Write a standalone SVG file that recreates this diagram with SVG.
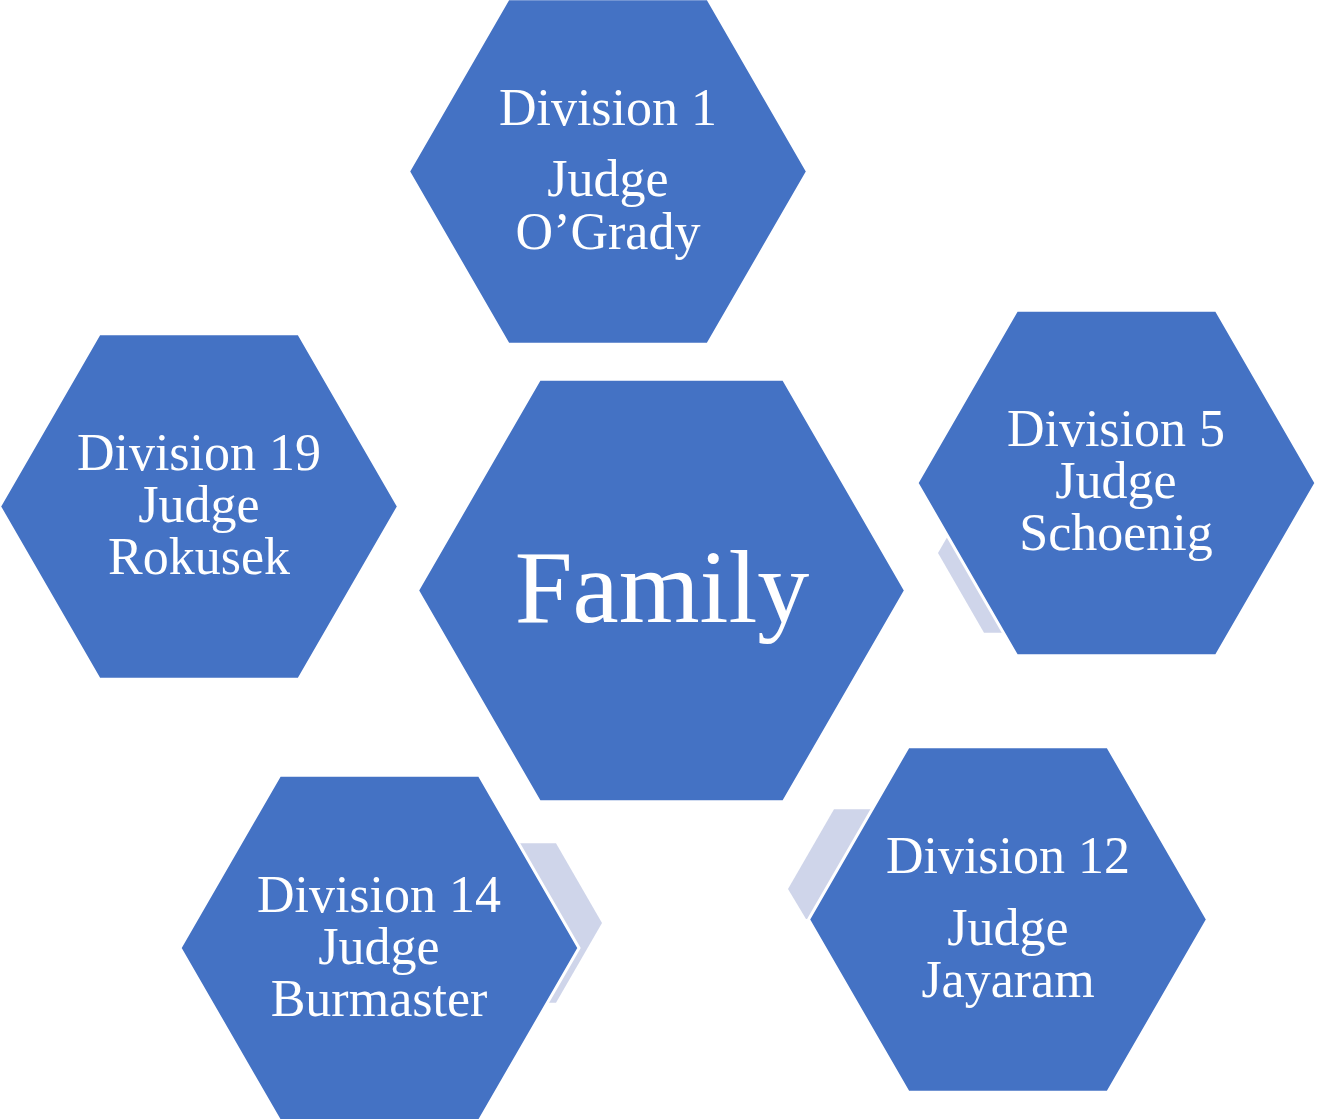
<svg xmlns="http://www.w3.org/2000/svg" width="1317" height="1119" viewBox="0 0 1317 1119">
<style>
.hex{fill:#4472C4;stroke:#FFFFFF;stroke-width:3;stroke-linejoin:miter}
.acc{fill:#CFD5EA;stroke:none}
.t{font-family:"Liberation Serif","Times New Roman",serif;font-size:52px;fill:#FFFFFF;text-anchor:middle}
.big{font-family:"Liberation Serif","Times New Roman",serif;font-size:104px;fill:#FFFFFF;text-anchor:middle}
</style>
<rect width="1317" height="1119" fill="#FFFFFF"/>
<g id="accents">
<polygon class="acc" points="938,553 984,473.3 1076,473.3 1122,553 1076,632.7 984,632.7"/>
<polygon class="acc" points="418,923 464,843.3 556,843.3 602,923 556,1002.7 464,1002.7"/>
<polygon class="acc" points="788,889 834,809.3 926,809.3 926,919 806,919"/>
</g>
<g id="div1">
<polygon class="hex" points="408.5,171.5 508.25,-1.3 707.75,-1.3 807.5,171.5 707.75,344.3 508.25,344.3"/>
<text class="t" x="608" y="125">Division 1</text>
<text class="t" x="608" y="196">Judge</text>
<text class="t" x="608" y="249">O’Grady</text>
</g>
<g id="div19">
<polygon class="hex" points="-0.5,506.5 99.25,333.7 298.75,333.7 398.5,506.5 298.75,679.3 99.25,679.3"/>
<text class="t" x="199" y="470">Division 19</text>
<text class="t" x="199" y="522">Judge</text>
<text class="t" x="199" y="574">Rokusek</text>
</g>
<g id="div5">
<polygon class="hex" points="917,483 1016.75,310.2 1216.25,310.2 1316,483 1216.25,655.8 1016.75,655.8"/>
<text class="t" x="1116" y="446">Division 5</text>
<text class="t" x="1116" y="498">Judge</text>
<text class="t" x="1116" y="550">Schoenig</text>
</g>
<g id="div12">
<polygon class="hex" points="808.5,919.5 908.25,746.7 1107.75,746.7 1207.5,919.5 1107.75,1092.3 908.25,1092.3"/>
<text class="t" x="1008" y="873">Division 12</text>
<text class="t" x="1008" y="945">Judge</text>
<text class="t" x="1008" y="997">Jayaram</text>
</g>
<g id="div14">
<polygon class="hex" points="180,948 279.75,775.2 479.25,775.2 579,948 479.25,1120.8 279.75,1120.8"/>
<text class="t" x="379" y="912">Division 14</text>
<text class="t" x="379" y="964">Judge</text>
<text class="t" x="379" y="1016">Burmaster</text>
</g>
<g id="family">
<polygon class="hex" points="417.5,590.5 539.5,379.2 783.5,379.2 905.5,590.5 783.5,801.8 539.5,801.8"/>
<text class="big" x="662" y="622">Family</text>
</g>
<g id="connectors"/>
</svg>
